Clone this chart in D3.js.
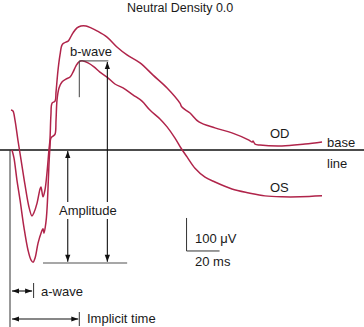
<!DOCTYPE html>
<html>
<head>
<meta charset="utf-8">
<script src="https://cdn.jsdelivr.net/npm/d3@7"></script>
<style>
  html, body { margin: 0; padding: 0; background: #fff; }
  svg { display: block; font-family: "Liberation Sans", Arial, Helvetica, sans-serif; }
</style>
</head>
<body>
<script>
// ERG responses, time in ms after the flash, potential in microvolts
const odTime = [0.6, 1.8, 3.0, 4.8, 6.7, 9.1, 11.5, 13.3, 14.5, 16.4, 18.2, 18.8, 20.0, 21.2, 22.4, 23.6,
  24.2, 24.8, 25.5, 27.3, 27.9, 29.1, 30.3, 31.5, 32.7, 33.9, 35.2, 36.4, 38.2, 40.6, 43.0, 46.1, 49.1,
  52.7, 58.8, 64.8, 70.9, 78.8, 86.7, 95.2, 103.0, 104.2, 109.1, 114.5, 124.2, 134.5, 144.8, 146.7,
  147.3, 148.5, 151.5, 164.8, 178.8, 189.1];
const odVolt = [121, 118, 91, 30, -30, -106, -173, -200, -190, -161, -118, -112, -142, -121, -70, 0,
  30, 106, 142, 148, 176, 242, 288, 318, 324, 327, 330, 339, 355, 370, 376, 376, 370,
  361, 342, 312, 288, 264, 227, 188, 142, 130, 112, 85, 67, 52, 30, 24,
  27, 18, 15, 12, 18, 24];

const osTime = [1.2, 2.4, 4.2, 6.1, 8.5, 10.9, 12.7, 14.0, 15.2, 17.0, 18.8, 20.0, 20.6, 21.8, 22.4, 23.0,
  23.6, 24.2, 24.8, 26.1, 27.3, 27.9, 28.5, 29.7, 31.5, 33.9, 36.4, 38.2, 40.0, 42.0, 44.2, 47.3, 50.9,
  54.5, 58.8, 63.6, 68.5, 74.5, 80.0, 84.8, 90.9, 95.2, 100.0, 103.6, 107.3, 112.1, 118.2, 124.2,
  134.5, 144.8, 154.5, 164.8, 175.8, 189.1];
const osVolt = [0, -24, -91, -152, -236, -303, -333, -340, -327, -282, -252, -239, -252, -218, -182, -121,
  -45, 6, 36, 42, 48, 91, 152, 188, 206, 215, 221, 236, 255, 268, 270, 264, 252,
  236, 221, 200, 188, 167, 148, 121, 94, 70, 36, 6, -21, -55, -82, -97,
  -118, -130, -139, -142, -142, -139];

// Measurement points
const aTime = 14;      // a-wave implicit time, ms
const bTime = 42;      // b-wave implicit time, ms
const aTrough = -340;  // a-wave trough, µV
const bPeak = 270;     // b-wave peak, µV

// Calibration bar
const barTime = [107, 127];   // 20 ms
const barVolt = [-306, -206]; // 100 µV

const W = 364, H = 327;
const traceColor = "#b0244a";

const svg = d3.select("body").append("svg").attr("width", W).attr("height", H);

// 1.65 px per ms, 0.33 px per µV, flash at t = 0
const x = d3.scaleLinear().domain([0, 200]).range([10, 340]);
const y = d3.scaleLinear().domain([-400, 400]).range([282, 18]);

// baseline
svg.append("line")
  .attr("x1", 0).attr("x2", W).attr("y1", y(0)).attr("y2", y(0))
  .attr("stroke", "#111").attr("stroke-width", 1.6);

// flash onset marker
svg.append("line")
  .attr("x1", x(0)).attr("x2", x(0)).attr("y1", y(0)).attr("y2", H)
  .attr("stroke", "#333").attr("stroke-width", 1);

const line = d3.line()
  .x(d => x(d[0])).y(d => y(d[1]))
  .curve(d3.curveCatmullRom.alpha(0.5));

const traces = [
  { name: "OD", pts: d3.zip(odTime, odVolt) },
  { name: "OS", pts: d3.zip(osTime, osVolt) }
];
svg.selectAll("path.trace").data(traces).join("path")
  .attr("class", "trace")
  .attr("d", d => line(d.pts))
  .attr("fill", "none")
  .attr("stroke", traceColor)
  .attr("stroke-width", 1.5)
  .attr("stroke-linejoin", "round");

// arrow helper: shaft with filled heads at the chosen ends
function arrow(x1, y1, x2, y2, heads, color) {
  const g = svg.append("g");
  g.append("line").attr("x1", x1).attr("y1", y1).attr("x2", x2).attr("y2", y2)
    .attr("stroke", color).attr("stroke-width", 1.1);
  const len = 7, half = 2.6;
  const head = (tx, ty, fx, fy) => {
    const a = Math.atan2(ty - fy, tx - fx);
    const bx = tx - len * Math.cos(a), by = ty - len * Math.sin(a);
    const px = -Math.sin(a) * half, py = Math.cos(a) * half;
    g.append("path")
      .attr("d", `M${tx},${ty}L${bx + px},${by + py}L${bx - px},${by - py}Z`)
      .attr("fill", color);
  };
  if (heads.start) head(x1, y1, x2, y2);
  if (heads.end) head(x2, y2, x1, y1);
}

// trough reference line
svg.append("line")
  .attr("x1", x(20)).attr("x2", x(71)).attr("y1", y(aTrough) + 0.8).attr("y2", y(aTrough) + 0.8)
  .attr("stroke", "#8a8a8a").attr("stroke-width", 1.6);

// a-wave amplitude (baseline to trough) and b-wave amplitude (trough to peak)
arrow(x(35), y(0) + 1, x(35), y(aTrough) - 0.5, { start: true, end: true }, "#111");
arrow(x(59), y(bPeak) + 1, x(59), y(aTrough) - 0.5, { start: true, end: true }, "#111");

// b-wave peak marker
svg.append("line")
  .attr("x1", x(bTime)).attr("x2", x(59) + 1).attr("y1", y(bPeak)).attr("y2", y(bPeak))
  .attr("stroke", "#444").attr("stroke-width", 1);
svg.append("line")
  .attr("x1", x(bTime)).attr("x2", x(bTime)).attr("y1", y(bPeak)).attr("y2", y(160))
  .attr("stroke", "#444").attr("stroke-width", 1);

// label over the amplitude arrows
svg.append("rect").attr("x", 58).attr("y", 202).attr("width", 62).attr("height", 17).attr("fill", "#fff");

// implicit-time markers
arrow(x(0) + 2, 291, x(aTime) - 1, 291, { start: true, end: true }, "#111");
svg.append("line").attr("x1", x(aTime) + 0.5).attr("x2", x(aTime) + 0.5).attr("y1", 283).attr("y2", 298)
  .attr("stroke", "#333").attr("stroke-width", 1);
arrow(x(0) + 2, 319, x(bTime) - 1, 319, { start: true, end: true }, "#111");
svg.append("line").attr("x1", x(bTime)).attr("x2", x(bTime)).attr("y1", 312).attr("y2", 326)
  .attr("stroke", "#333").attr("stroke-width", 1);

// calibration bar
svg.append("path")
  .attr("d", `M${x(barTime[0])},${y(barVolt[1])}V${y(barVolt[0])}H${x(barTime[1])}`)
  .attr("fill", "none").attr("stroke", "#333").attr("stroke-width", 1);

// text
const labels = [
  { t: "Neutral Density 0.0", x: 127, y: 11.5, size: 12.5 },
  { t: "b-wave", x: 70, y: 56, size: 13 },
  { t: "Amplitude", x: 59, y: 215, size: 13 },
  { t: "OD", x: 270, y: 138, size: 13 },
  { t: "base", x: 327, y: 146.5, size: 13 },
  { t: "line", x: 327, y: 168, size: 13 },
  { t: "OS", x: 270, y: 191.5, size: 13 },
  { t: "100 \u03bcV", x: 195, y: 243, size: 13 },
  { t: "20 ms", x: 195, y: 266, size: 13 },
  { t: "a-wave", x: 41, y: 296, size: 13 },
  { t: "Implicit time", x: 87, y: 323, size: 13 }
];
svg.selectAll("text.lbl").data(labels).join("text")
  .attr("class", "lbl")
  .attr("x", d => d.x).attr("y", d => d.y)
  .attr("font-size", d => d.size)
  .attr("fill", "#1a1a1a")
  .text(d => d.t);
</script>
</body>
</html>
